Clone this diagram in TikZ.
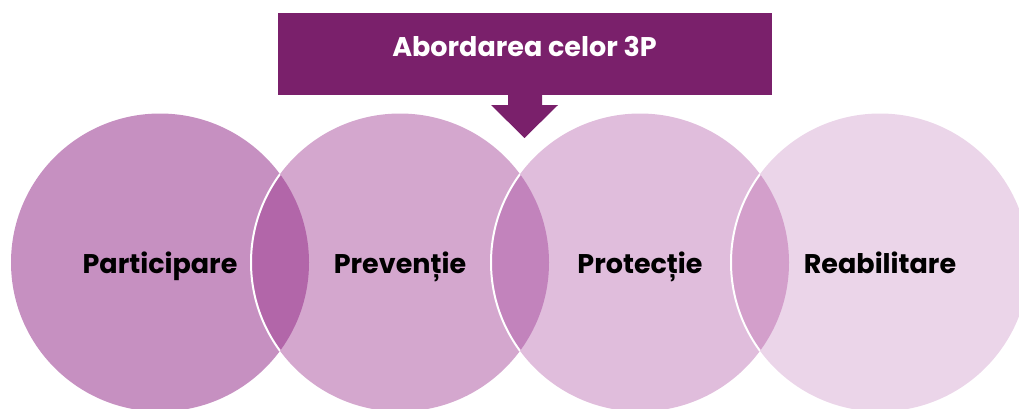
\documentclass[tikz,border=0pt]{standalone}
\usepackage{fontspec}
\setmainfont{Poppins}
\definecolor{circA}{RGB}{198,144,193}
\definecolor{circB}{RGB}{212,167,206}
\definecolor{circC}{RGB}{224,189,220}
\definecolor{circD}{RGB}{235,213,233}
\definecolor{lensAB}{RGB}{178,102,169}
\definecolor{lensBC}{RGB}{194,131,188}
\definecolor{lensCD}{RGB}{211,159,203}
\definecolor{banner}{RGB}{122,32,107}
\tikzset{steplabel/.style={font=\bfseries\fontsize{27}{30}\selectfont, anchor=base}}
\begin{document}
\begin{tikzpicture}[x=1pt,y=-1pt]
	\useasboundingbox (0,0) rectangle (1019,408);
	\coordinate (cA) at (160,262.5);
	\coordinate (cB) at (400,262.5);
	\coordinate (cC) at (640,262.5);
	\coordinate (cD) at (880,262.5);
	\fill[circA] (cA) circle (149);
	\fill[circB] (cB) circle (149);
	\fill[circC] (cC) circle (149);
	\fill[circD] (cD) circle (149);
	% overlaps
	\begin{scope}
		\clip (cA) circle (149);
		\fill[lensAB] (cB) circle (149);
		\draw[white, line width=2pt] (cB) circle (149);
	\end{scope}
	\begin{scope}
		\clip (cB) circle (149);
		\fill[lensBC] (cC) circle (149);
		\draw[white, line width=2pt] (cC) circle (149);
	\end{scope}
	\begin{scope}
		\clip (cC) circle (149);
		\fill[lensCD] (cD) circle (149);
		\draw[white, line width=2pt] (cD) circle (149);
	\end{scope}
	% banner and arrow
	\fill[banner] (278,13) rectangle (772,95);
	\fill[banner] (508,95) -- (542,95) -- (542,105) -- (558,105) -- (524.5,138) -- (491,105) -- (508,105) -- cycle;
	\node[steplabel, text=white] (title) at (524.5,56) {Abordarea celor 3P};
	\node[steplabel] (part) at (cA |- 0,273) {Participare};
	\node[steplabel] (prev) at (cB |- 0,273) {Prevenție};
	\node[steplabel] (prot) at (cC |- 0,273) {Protecție};
	\node[steplabel] (reab) at (cD |- 0,273) {Reabilitare};
\end{tikzpicture}
\end{document}
